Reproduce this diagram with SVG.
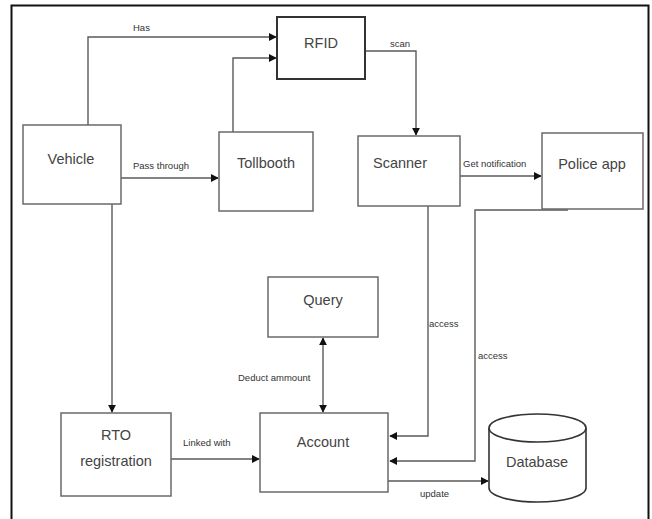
<svg xmlns="http://www.w3.org/2000/svg" width="652" height="519" viewBox="0 0 652 519">
<style>
.box{fill:#fff;stroke:#6a6a6a;stroke-width:1.5}
.dark{fill:#fff;stroke:#333;stroke-width:2}
.lbl{font-family:"Liberation Sans",Arial,sans-serif;font-size:14.5px;fill:#444;text-anchor:middle}
.sm{font-family:"Liberation Sans",Arial,sans-serif;font-size:9.5px;fill:#333}
.c{fill:none;stroke:#5a5a5a;stroke-width:1.4}
</style>
<defs>
<marker id="ah" viewBox="0 0 10 10" refX="9" refY="5" markerWidth="8" markerHeight="8" markerUnits="userSpaceOnUse" orient="auto-start-reverse">
<path d="M0,0 L10,5 L0,10 z" fill="#111"/>
</marker>
</defs>
<rect width="652" height="519" fill="#fff"/>
<path d="M11.5,530 V5.5 H648.5 V530" fill="none" stroke="#111" stroke-width="2"/>
<g id="connectors">
<path class="c" d="M88,125 V37 H276" marker-end="url(#ah)"/>
<path class="c" d="M233,132 V58 H276" marker-end="url(#ah)"/>
<path class="c" d="M366,51 H416 V135" marker-end="url(#ah)"/>
<path class="c" d="M121,178 H218" marker-end="url(#ah)"/>
<path class="c" d="M460,176 H541" marker-end="url(#ah)"/>
<path class="c" d="M112,204 V412" marker-end="url(#ah)"/>
<path class="c" d="M171,459 H259" marker-end="url(#ah)"/>
<path class="c" d="M428,206 V436 H390" marker-end="url(#ah)"/>
<path class="c" d="M568,210 H475 V461 H390" marker-end="url(#ah)"/>
<path class="c" d="M323,338 V412" marker-start="url(#ah)" marker-end="url(#ah)"/>
<path class="c" d="M388,481 H488" marker-end="url(#ah)"/>
<text class="sm" x="133" y="31">Has</text>
<text class="sm" x="390" y="47">scan</text>
<text class="sm" x="133" y="169">Pass through</text>
<text class="sm" x="463" y="167">Get notification</text>
<text class="sm" x="429" y="327">access</text>
<text class="sm" x="478" y="359">access</text>
<text class="sm" x="238" y="381">Deduct ammount</text>
<text class="sm" x="183" y="446">Linked with</text>
<text class="sm" x="420" y="497">update</text>
</g>
<g id="rfid"><rect class="dark" x="277" y="17" width="88" height="62"/><text class="lbl" x="321" y="48">RFID</text></g>
<g id="vehicle"><rect class="box" x="23" y="125" width="98" height="79"/><text class="lbl" x="71" y="164">Vehicle</text></g>
<g id="tollbooth"><rect class="box" x="219" y="132" width="94" height="79"/><text class="lbl" x="266" y="168">Tollbooth</text></g>
<g id="scanner"><rect class="box" x="358" y="136" width="102" height="70"/><text class="lbl" x="400" y="168">Scanner</text></g>
<g id="police"><rect class="box" x="542" y="133" width="101" height="76"/><text class="lbl" x="592" y="169">Police app</text></g>
<g id="query"><rect class="box" x="268" y="277" width="110" height="60"/><text class="lbl" x="323" y="305">Query</text></g>
<g id="account"><rect class="box" x="260" y="413" width="128" height="79"/><text class="lbl" x="323" y="447">Account</text></g>
<g id="rto"><rect class="box" x="61" y="413" width="110" height="83"/><text class="lbl" x="116" y="440">RTO</text><text class="lbl" x="116" y="466">registration</text></g>
<g id="database">
<path d="M489,428 V488 A48.5,14 0 0 0 586,488 V428" fill="#fff" stroke="#333" stroke-width="1.6"/>
<ellipse cx="537.5" cy="428" rx="48.5" ry="14" fill="#fff" stroke="#333" stroke-width="1.6"/>
<text class="lbl" x="537" y="467">Database</text>
</g>
</svg>
